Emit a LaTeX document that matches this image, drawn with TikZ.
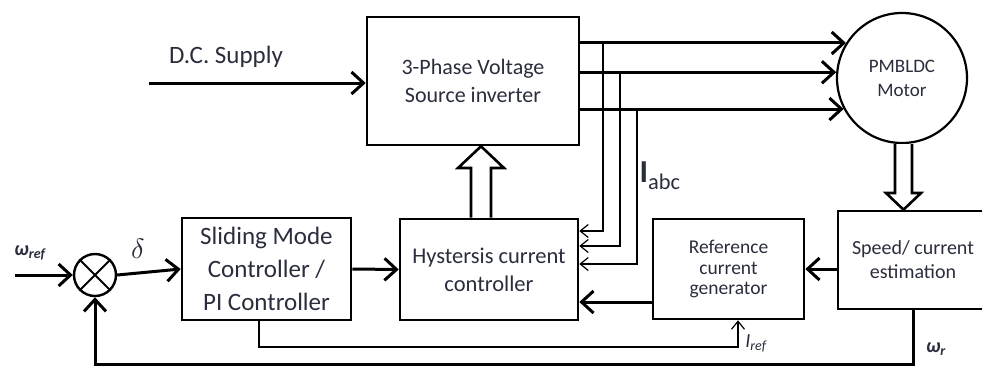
\documentclass[tikz,border=0pt]{standalone}
\usepackage{fontspec}
\setmainfont{Carlito}
\usetikzlibrary{arrows.meta,calc}
\definecolor{ink}{HTML}{2A2D3C}

\begin{document}
\begin{tikzpicture}[x=1pt,y=1pt,text=ink,
  >={Straight Barb[length=12pt,width=22pt]},
  block/.style={draw,line width=2.6pt,align=center,inner sep=0pt},
  flow/.style={line width=3pt,->},
  tap/.style={line width=1.2pt,-{Straight Barb[length=8pt,width=13pt]}},
  hollow/.style={draw,line width=2.6pt,fill=white,line join=miter}]
  \useasboundingbox (0,0) rectangle (982,-365);

  % Blocks
  \node[block,minimum width=212pt,minimum height=128pt,
    font=\fontsize{22}{28}\selectfont] (vsi) at (473,-81)
    {3-Phase Voltage\\Source inverter};
  \node[draw,circle,line width=2.2pt,minimum size=130pt,inner sep=0pt,
    font=\fontsize{19}{24}\selectfont,align=center] (motor) at (902,-78)
    {PMBLDC\\Motor};
  \node[block,minimum width=150pt,minimum height=98pt,
    font=\fontsize{20}{24}\selectfont] (speed) at (913,-260)
    {Speed/ current\\estimation};
  \node[block,minimum width=151pt,minimum height=100pt,
    font=\fontsize{19.5}{20.5}\selectfont] (refgen) at (728.5,-269)
    {Reference\\current\\generator};
  \node[block,minimum width=178pt,minimum height=101pt,
    font=\fontsize{22.5}{28}\selectfont] (hcc) at (489,-269.5)
    {Hystersis current\\controller};
  \node[block,minimum width=169pt,minimum height=102pt,
    font=\fontsize{25}{33}\selectfont] (smc) at (266.5,-269)
    {Sliding Mode\\Controller /\\PI Controller};
  \node[draw,circle,line width=2.4pt,minimum size=42pt,inner sep=0pt]
    (sum) at (95,-275) {};
  \draw[line width=2pt] (sum.45) -- (sum.225) (sum.135) -- (sum.315);

  % Supply and phase lines
  \coordinate (dcin) at (149,-83);
  \draw[flow] (dcin) -- (dcin -| vsi.west);
  \node[font=\fontsize{25}{30}\selectfont] (dclabel) at (226,-57)
    {D.C. Supply};
  \foreach \a in {148.5,175.6,208.5}
    \draw[flow] (vsi.east |- motor.\a) -- (motor.\a);

  % Current feedback taps
  \draw[tap] (603,0 |- motor.148.5) |- (hcc.east |- 0,-231);
  \draw[tap] (620,0 |- motor.175.6) |- (hcc.east |- 0,-246);
  \draw[tap] (637,0 |- motor.208.5) |- (hcc.east |- 0,-264);
  \node[font=\fontsize{32}{32}\selectfont] (iabc) at (660,-176)
    {{\bfseries I}\textsubscript{abc}};

  % Hollow arrows
  \draw[hollow] (471,0 |- hcc.north) -- (471,-168) -- (458,-168)
    -- (481,0 |- vsi.south) -- (504,-168) -- (491,-168)
    -- (491,0 |- hcc.north);
  \draw[hollow] (895,0 |- motor.south) -- (895,-193) -- (886,-193)
    -- (903.5,0 |- speed.north) -- (921,-193) -- (912,-193)
    -- (912,0 |- motor.south);

  % Signal path
  \coordinate (wrefin) at (15,-275);
  \draw[flow] (wrefin) -- (sum.west);
  \node[font=\fontsize{20}{20}\selectfont\bfseries\itshape] (wref)
    at (30,-253) {ω\textsubscript{ref}};
  \draw[flow] (sum.east) -- (smc.west);
  \node (delta) at (138,-249) {\scalebox{2.8}{$\delta$}};
  \draw[flow] (smc.east) -- (hcc.west);
  \draw[flow] (speed.west |- refgen.east) -- (refgen.east);
  \draw[flow] (refgen.west |- 0,-302) -- (hcc.east |- 0,-302);
  \draw[flow] (speed.south) -- ++(0,-54) -| (sum.south);
  \node[font=\fontsize{20}{20}\selectfont\bfseries\itshape] (wr)
    at (936,-349) {ω\textsubscript{r}};
  \draw[tap] (259,0 |- smc.south) -- (259,-347) -| (738,0 |- refgen.south);
  \node[font=\fontsize{20}{20}\selectfont\itshape] (iref) at (756,-343)
    {I\textsubscript{ref}};
\end{tikzpicture}
\end{document}
